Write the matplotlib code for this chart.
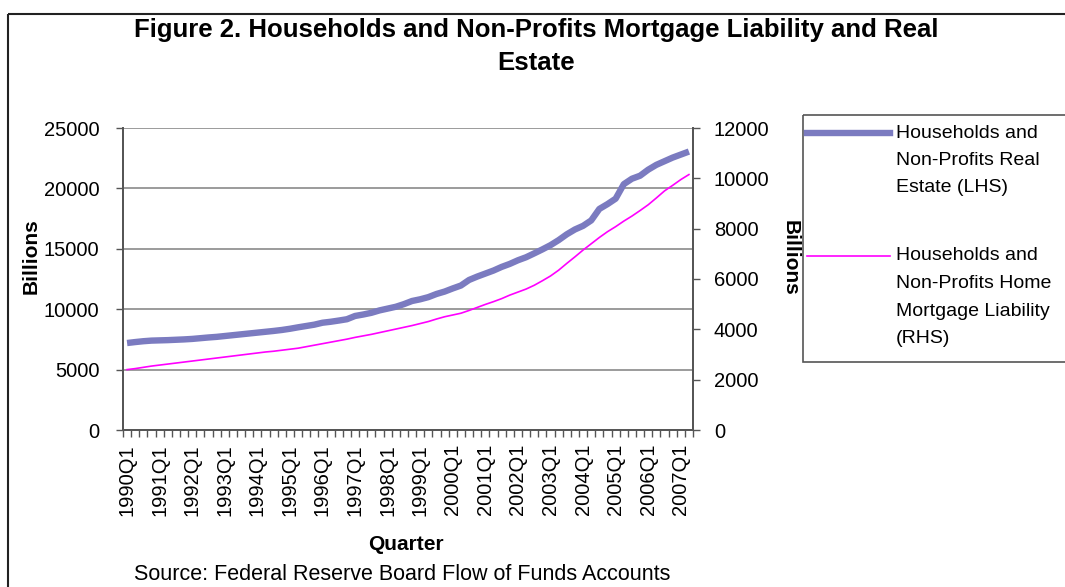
import numpy as np
import matplotlib
matplotlib.use('Agg')
import matplotlib.pyplot as plt
from matplotlib.patches import Rectangle
from matplotlib.lines import Line2D

plt.rcParams['font.family'] = ['Liberation Sans', 'DejaVu Sans']

# quarters 1990Q1 .. 2007Q2
quarters = ['%dQ%d' % (y, q) for y in range(1990, 2008) for q in range(1, 5)][:70]

# Households and Non-Profits Real Estate (LHS), billions
real_estate = [7200, 7280, 7350, 7400, 7420, 7440, 7470, 7500, 7540, 7600,
               7660, 7710, 7780, 7850, 7920, 7990, 8060, 8130, 8200, 8280,
               8380, 8500, 8610, 8720, 8880, 8960, 9060, 9170, 9440, 9560,
               9700, 9900, 10050, 10200, 10420, 10680, 10820, 11000, 11260, 11460,
               11720, 11960, 12420, 12700, 12950, 13200, 13500, 13750, 14050, 14300,
               14620, 14950, 15300, 15720, 16200, 16600, 16900, 17350, 18300, 18700,
               19150, 20350, 20800, 21050, 21550, 21950, 22250, 22550, 22800, 23050]

# Households and Non-Profits Home Mortgage Liability (RHS), billions
mortgage = [2400, 2440, 2490, 2540, 2580, 2620, 2660, 2700, 2740, 2780,
            2820, 2860, 2900, 2940, 2980, 3020, 3060, 3100, 3130, 3170,
            3210, 3250, 3310, 3370, 3430, 3490, 3550, 3610, 3680, 3740,
            3800, 3870, 3940, 4010, 4080, 4150, 4230, 4310, 4410, 4500,
            4570, 4640, 4750, 4870, 4990, 5100, 5220, 5360, 5480, 5600,
            5750, 5930, 6120, 6350, 6620, 6880, 7150, 7400, 7650, 7880,
            8080, 8300, 8500, 8720, 8950, 9220, 9500, 9720, 9950, 10150]

left_ticks = [0, 5000, 10000, 15000, 20000, 25000]
right_ticks = [0, 2000, 4000, 6000, 8000, 10000, 12000]

blue = '#7b7bc0'
pink = '#ff00ff'
grid = '#808080'
fs = 14.5

W, H = 1065, 587
fig = plt.figure(figsize=(W / 100, H / 100), dpi=100)

ax = fig.add_axes([123 / W, 1 - 430 / H, 570 / W, 302 / H])
ax2 = ax.twinx()

x = np.arange(len(quarters))
ax.plot(x, real_estate, color=blue, lw=4.6, solid_capstyle='butt')
ax2.plot(x, mortgage, color=pink, lw=1.2)

ax.set_xlim(-0.5, len(quarters) - 0.5)
ax.set_ylim(0, 25000)
ax2.set_ylim(0, 12000)
ax.set_yticks(left_ticks)
ax2.set_yticks(right_ticks)
ax.set_yticklabels([str(v) for v in left_ticks], fontsize=fs)
ax2.set_yticklabels([str(v) for v in right_ticks], fontsize=fs)

for v in left_ticks[1:]:
    ax.axhline(v, color=grid, lw=1.1, zorder=0)

major = x[::4]
ax.set_xticks(major)
ax.set_xticklabels([quarters[i] for i in major], rotation=90, fontsize=fs)
ax.set_xticks(np.arange(len(quarters) + 1) - 0.5, minor=True)
ax.tick_params(axis='x', which='major', length=0, pad=10)
ax.tick_params(axis='x', which='minor', length=5, color='#555555', width=1)
ax.tick_params(axis='y', length=5, color='#555555', width=1, pad=12)
ax2.tick_params(axis='y', length=5, color='#555555', width=1, pad=10)

for a in (ax, ax2):
    a.spines['top'].set_visible(False)
    for s in ('left', 'right', 'bottom'):
        a.spines[s].set_color('#555555')
        a.spines[s].set_linewidth(1.3)

# overlay in pixel coordinates for title, border, labels, legend, source
ov = fig.add_axes([0, 0, 1, 1], zorder=5)
ov.set_xlim(0, W)
ov.set_ylim(H, 0)
ov.axis('off')
ov.patch.set_alpha(0)

ov.add_patch(Rectangle((8, 14), W, H, fill=False, ec='#222222', lw=1.5))
ov.text(536, 30, 'Figure 2. Households and Non-Profits Mortgage Liability and Real',
        ha='center', va='center', fontsize=18.5, fontweight='bold')
ov.text(536, 63, 'Estate', ha='center', va='center', fontsize=18.5, fontweight='bold')
ov.text(31, 256, 'Billions', ha='center', va='center', rotation=90,
        fontsize=15, fontweight='bold')
ov.text(790, 258, 'Billions', ha='center', va='center', rotation=270,
        fontsize=15, fontweight='bold')
ov.text(406, 545, 'Quarter', ha='center', va='center', fontsize=15, fontweight='bold')
ov.text(402, 574, 'Source: Federal Reserve Board Flow of Funds Accounts',
        ha='center', va='center', fontsize=15.5)

ov.add_patch(Rectangle((803, 115), 300, 247, fill=False, ec='#555555', lw=1.2))
ov.add_line(Line2D([807, 890], [133, 133], color=blue, lw=4.6))
ov.add_line(Line2D([807, 890], [256, 256], color=pink, lw=1.2))
leg1 = ['Households and', 'Non-Profits Real', 'Estate (LHS)']
leg2 = ['Households and', 'Non-Profits Home', 'Mortgage Liability', '(RHS)']
for i, t in enumerate(leg1):
    ov.text(896, 133 + 27.5 * i, t, ha='left', va='center', fontsize=14)
for i, t in enumerate(leg2):
    ov.text(896, 256 + 27.5 * i, t, ha='left', va='center', fontsize=14)

fig.savefig('out.png', dpi=100)
